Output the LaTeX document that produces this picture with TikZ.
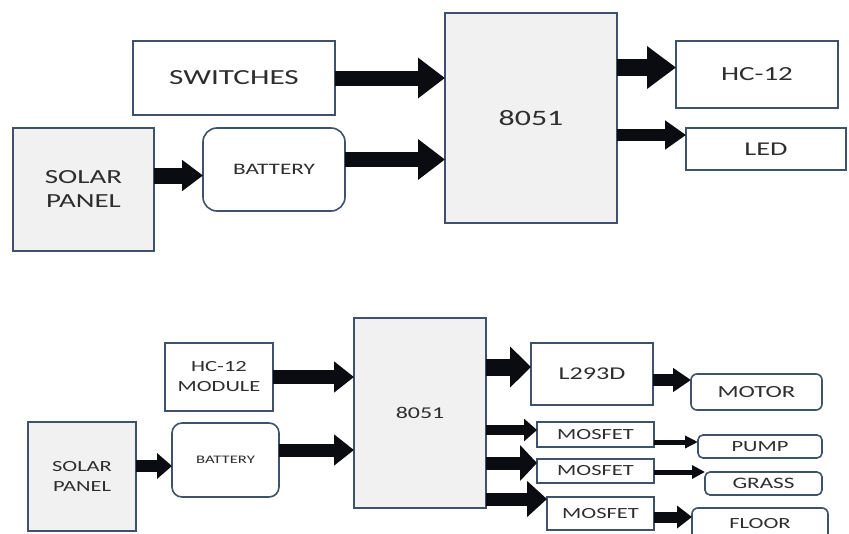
\documentclass[tikz,border=0pt]{standalone}
\usepackage{fontspec}
\setmainfont{Carlito}[FakeStretch=1.45]
\usetikzlibrary{arrows.meta}
\definecolor{edge}{HTML}{3F526B}
\definecolor{panel}{HTML}{F1F1F1}
\definecolor{ink}{HTML}{2E2E2E}
\definecolor{pipe}{HTML}{0B0B12}
\begin{document}
\begin{tikzpicture}[x=1pt,y=-1pt,
    block/.style={draw=edge,line width=1.6pt,text=ink,inner sep=0pt,outer sep=0pt,align=center},
    plate/.style={block,fill=panel},
    soft/.style={block,rounded corners=#1},
    flow/.style n args={3}{draw=pipe,line width=#1,-{Triangle[length=#2,width=#3]}}]
    \useasboundingbox (0,0) rectangle (849,533);
    \fill[white] (0,0) rectangle (849,533);

    % Sistema superior
    \node[block,minimum width=202pt,minimum height=74pt,font=\fontsize{21.5}{25}\selectfont] (sw) at (234,78) {SWITCHES};
    \node[plate,minimum width=141pt,minimum height=123pt,font=\fontsize{20}{24}\selectfont] (sp1) at (83.5,189.5) {SOLAR\\PANEL};
    \node[soft=14pt,minimum width=142pt,minimum height=83pt,font=\fontsize{16}{19}\selectfont] (bat1) at (274,169.5) {BATTERY};
    \node[plate,minimum width=172pt,minimum height=210pt,font=\fontsize{22}{26}\selectfont] (mcu1) at (531,118) {8051};
    \node[block,minimum width=162pt,minimum height=67pt,font=\fontsize{20}{24}\selectfont] (hc1) at (757,74.5) {HC-12};
    \node[block,minimum width=160pt,minimum height=42pt,font=\fontsize{19.5}{23}\selectfont] (led) at (766,149) {LED};
    \draw[flow={16pt}{21pt}{30pt}] ([yshift=14pt]sp1.east) -- ([yshift=14pt]sp1.east -| bat1.west);
    \draw[flow={15pt}{27pt}{39pt}] (sw.east) -- (sw.east -| mcu1.west);
    \draw[flow={15pt}{27pt}{39pt}] ([yshift=10pt]bat1.east) -- ([yshift=10pt]bat1.east -| mcu1.west);
    \draw[flow={17pt}{29pt}{41pt}] ([yshift=7pt]hc1.west -| mcu1.east) -- ([yshift=7pt]hc1.west);
    \draw[flow={12pt}{21pt}{28pt}] ([yshift=14pt]led.west -| mcu1.east) -- ([yshift=14pt]led.west);

    % Sistema inferior
    \node[block,minimum width=108pt,minimum height=68pt,font=\fontsize{15.5}{20}\selectfont] (hcm) at (219,377) {HC-12\\MODULE};
    \node[plate,minimum width=108pt,minimum height=109pt,font=\fontsize{15.5}{20}\selectfont] (sp2) at (82,476.5) {SOLAR\\PANEL};
    \node[soft=10pt,minimum width=107pt,minimum height=74pt,font=\fontsize{11.5}{14}\selectfont] (bat2) at (225.5,460) {BATTERY};
    \node[plate,minimum width=132pt,minimum height=190pt,font=\fontsize{16.5}{20}\selectfont] (mcu2) at (420,413) {8051};
    \node[block,minimum width=122pt,minimum height=62pt,font=\fontsize{18}{21}\selectfont] (drv) at (592,374) {L293D};
    \node[soft=6pt,minimum width=131pt,minimum height=36pt,font=\fontsize{17}{20}\selectfont] (motor) at (756.5,392) {MOTOR};
    \node[block,minimum width=117pt,minimum height=25pt,font=\fontsize{15.5}{18}\selectfont] (mos1) at (595.5,434.5) {MOSFET};
    \node[block,minimum width=117pt,minimum height=24pt,font=\fontsize{15.5}{18}\selectfont] (mos2) at (595.5,471) {MOSFET};
    \node[block,minimum width=107pt,minimum height=33pt,font=\fontsize{15.5}{18}\selectfont] (mos3) at (600.5,513.5) {MOSFET};
    \node[soft=5pt,minimum width=124pt,minimum height=23pt,font=\fontsize{15.5}{18}\selectfont] (pump) at (760,446.5) {PUMP};
    \node[soft=5pt,minimum width=117pt,minimum height=23pt,font=\fontsize{16}{19}\selectfont] (grass) at (763.5,483.5) {GRASS};
    \node[soft=6pt,minimum width=136pt,minimum height=32pt,font=\fontsize{15.5}{18}\selectfont] (floor) at (760,524) {FLOOR};
    \draw[flow={12pt}{15pt}{25pt}] ([yshift=10.5pt]sp2.east) -- ([yshift=10.5pt]sp2.east -| bat2.west);
    \draw[flow={14pt}{20pt}{30pt}] (hcm.east) -- (hcm.east -| mcu2.west);
    \draw[flow={13pt}{20pt}{30pt}] ([yshift=10pt]bat2.east) -- ([yshift=10pt]bat2.east -| mcu2.west);
    \draw[flow={17pt}{21pt}{40pt}] ([yshift=7pt]drv.west -| mcu2.east) -- ([yshift=7pt]drv.west);
    \draw[flow={10pt}{13pt}{22pt}] ([yshift=4.5pt]mos1.west -| mcu2.east) -- ([yshift=4.5pt]mos1.west);
    \draw[flow={13pt}{17pt}{35pt}] ([yshift=8pt]mos2.west -| mcu2.east) -- ([yshift=8pt]mos2.west);
    \draw[flow={13pt}{20pt}{35pt}] ([yshift=14.5pt]mos3.west -| mcu2.east) -- ([yshift=14.5pt]mos3.west);
    \draw[flow={12pt}{18pt}{23pt}] ([yshift=-6pt]drv.east) -- ([yshift=-6pt]drv.east -| motor.west);
    \draw[flow={5pt}{13pt}{12pt}] ([yshift=4.5pt]pump.west -| mos1.east) -- ([yshift=4.5pt]pump.west);
    \draw[flow={5pt}{13pt}{13pt}] ([yshift=11.5pt]grass.west -| mos2.east) -- ([yshift=11.5pt]grass.west);
    \draw[flow={11pt}{15pt}{22pt}] ([yshift=-3.5pt]mos3.east) -- ([yshift=-3.5pt]mos3.east -| floor.west);
\end{tikzpicture}
\end{document}
